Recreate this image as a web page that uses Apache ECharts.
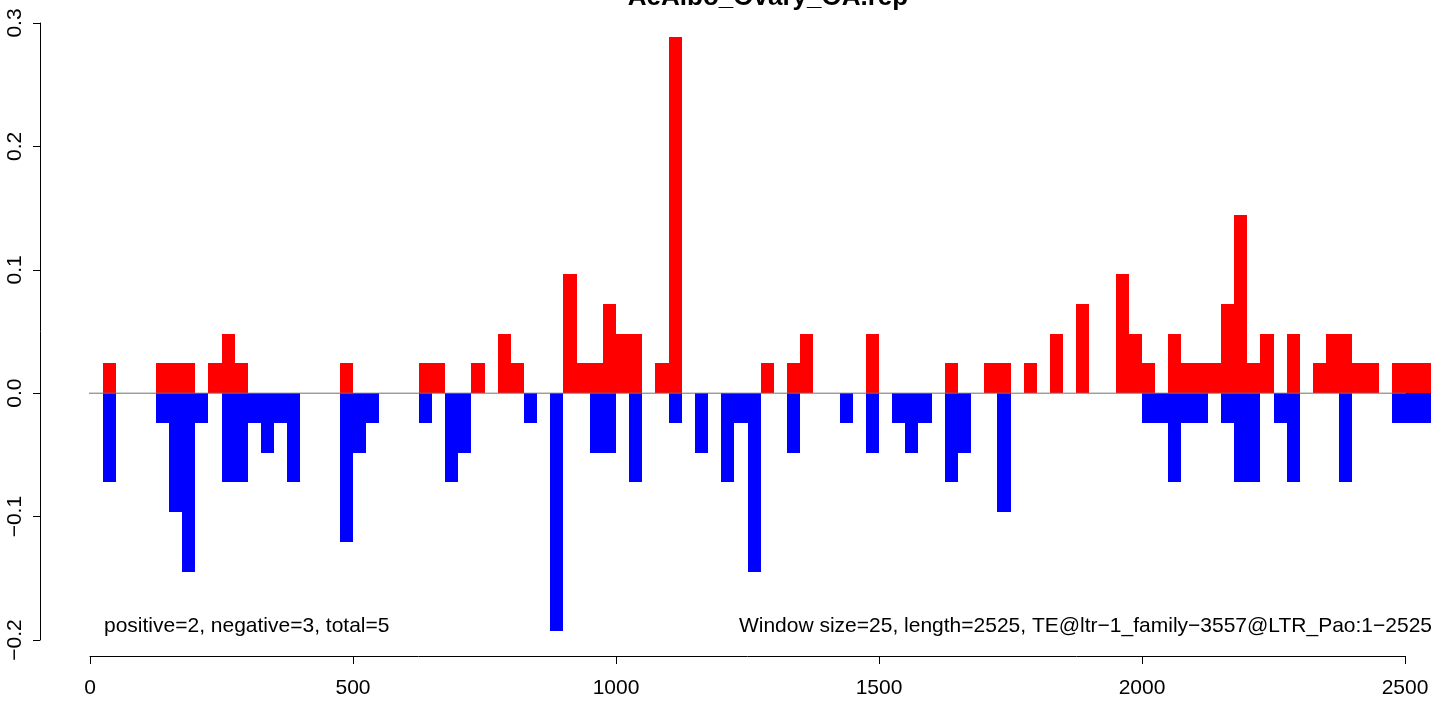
<!DOCTYPE html>
<html>
<head>
<meta charset="utf-8">
<script src="https://cdn.jsdelivr.net/npm/echarts@6/dist/echarts.min.js"></script>
<style>
html,body{margin:0;padding:0;background:#fff;}
#chart{width:1433px;height:702px;}
</style>
</head>
<body>
<div id="chart"></div>
<script>
// Window start positions and values
const windowSize = 25;
const posX = [25,125,150,175,225,250,275,475,625,650,725,775,800,900,925,950,975,1000,1025,1075,1100,
  1275,1325,1350,1475,1625,1700,1725,1775,1825,1875,1950,1975,2000,2050,2075,2100,2125,2150,2175,2200,2225,
  2275,2325,2350,2375,2400,2425,2475,2500,2525];
const posY = [0.0241,0.0241,0.0241,0.0241,0.0241,0.0482,0.0241,0.0241,0.0241,0.0241,0.0241,0.0482,0.0241,
  0.0963,0.0241,0.0241,0.0722,0.0482,0.0482,0.0241,0.289,
  0.0241,0.0241,0.0482,0.0482,0.0241,0.0241,0.0241,0.0241,0.0482,0.0722,
  0.0963,0.0482,0.0241,0.0482,0.0241,0.0241,0.0241,0.0722,0.1445,0.0241,0.0482,
  0.0482,0.0241,0.0482,0.0482,0.0241,0.0241,0.0241,0.0241,0.0241];
const negX = [25,125,150,175,200,250,275,300,325,350,375,475,500,525,625,675,700,825,875,
  950,975,1025,1100,1150,1200,1225,1250,1325,1425,1475,1525,1550,1575,1625,1650,1725,
  2000,2025,2050,2075,2100,2150,2175,2200,2250,2275,2375,2475,2500,2525];
const negY = [-0.0722,-0.0241,-0.0963,-0.1445,-0.0241,-0.0722,-0.0722,-0.0241,-0.0482,-0.0241,-0.0722,
  -0.1204,-0.0482,-0.0241,-0.0241,-0.0722,-0.0482,-0.0241,-0.1926,
  -0.0482,-0.0482,-0.0722,-0.0241,-0.0482,-0.0722,-0.0241,-0.1445,
  -0.0482,-0.0241,-0.0482,-0.0241,-0.0482,-0.0241,-0.0722,-0.0482,-0.0963,
  -0.0241,-0.0241,-0.0722,-0.0241,-0.0241,-0.0241,-0.0722,-0.0722,-0.0241,-0.0722,-0.0722,-0.0241,-0.0241,-0.0241];
const xTicks = [0, 500, 1000, 1500, 2000, 2500];
const yTicks = [-0.2, -0.1, 0.0, 0.1, 0.2, 0.3];
const zeroLine = [[-95, 0], [2550, 0]];
const titleText = 'AeAlbo_Ovary_OA.rep';
const leftNote = 'positive=2, negative=3, total=5';
const rightNote = 'Window size=25, length=2525, TE@ltr\u22121_family\u22123557@LTR_Pao:1\u22122525';

const FONT = '"Liberation Sans", Arial, Helvetica, sans-serif';
const chart = echarts.init(document.getElementById('chart'));

function barRender(color) {
  return function (params, api) {
    const x = api.value(0), v = api.value(1);
    const p0 = api.coord([x, 0]);
    const p1 = api.coord([x + windowSize, v]);
    const x0 = Math.round(p0[0]), x1 = Math.round(p1[0]);
    const y0 = Math.round(p0[1]), y1 = Math.round(p1[1]);
    return {
      type: 'rect',
      shape: { x: x0, y: Math.min(y0, y1), width: x1 - x0, height: Math.abs(y1 - y0) },
      style: { fill: color, stroke: null }
    };
  };
}

chart.setOption({
  animation: false,
  backgroundColor: '#ffffff',
  grid: { left: 90, right: 28, top: 23, bottom: 62 },
  xAxis: {
    type: 'value', min: xTicks[0], max: xTicks[xTicks.length - 1], interval: 500,
    offset: 16,
    axisLine: { show: true, onZero: false, lineStyle: { color: '#000', width: 1 } },
    axisTick: { show: true, length: 8, lineStyle: { color: '#000', width: 1 } },
    axisLabel: { color: '#000', fontSize: 21, fontFamily: FONT, margin: 22, formatter: v => String(v) },
    splitLine: { show: false }
  },
  yAxis: {
    type: 'value', min: yTicks[0], max: yTicks[yTicks.length - 1], interval: 0.1,
    offset: 50,
    axisLine: { show: true, onZero: false, lineStyle: { color: '#000', width: 1 } },
    axisTick: { show: true, length: 7, lineStyle: { color: '#000', width: 1 } },
    axisLabel: { color: '#000', fontSize: 21, fontFamily: FONT, rotate: 90, margin: 14,
      formatter: v => Number(v).toFixed(1).replace('-', '\u2212') },
    splitLine: { show: false }
  },
  graphic: [
    { type: 'text', x: 768, y: -2, style: { text: titleText, font: 'bold 26px ' + FONT, fill: '#000', textAlign: 'center', textVerticalAlign: 'middle' }, z: 100 },
    { type: 'text', x: 104, y: 626, style: { text: leftNote, font: '21px ' + FONT, fill: '#000', textAlign: 'left', textVerticalAlign: 'middle' }, z: 100 },
    { type: 'text', x: 1432, y: 626, style: { text: rightNote, font: '21px ' + FONT, fill: '#000', textAlign: 'right', textVerticalAlign: 'middle' }, z: 100 }
  ],
  series: [
    { type: 'custom', name: 'positive', clip: false, renderItem: barRender('#ff0000'),
      data: posX.map((x, i) => [x, posY[i]]), encode: { x: 0, y: 1 } },
    { type: 'custom', name: 'negative', clip: false, renderItem: barRender('#0000ff'),
      data: negX.map((x, i) => [x, negY[i]]), encode: { x: 0, y: 1 } },
    { type: 'line', data: zeroLine, symbol: 'none', silent: true, z: 5, clip: false,
      lineStyle: { color: '#707070', width: 1 } }
  ]
});
</script>
</body>
</html>
